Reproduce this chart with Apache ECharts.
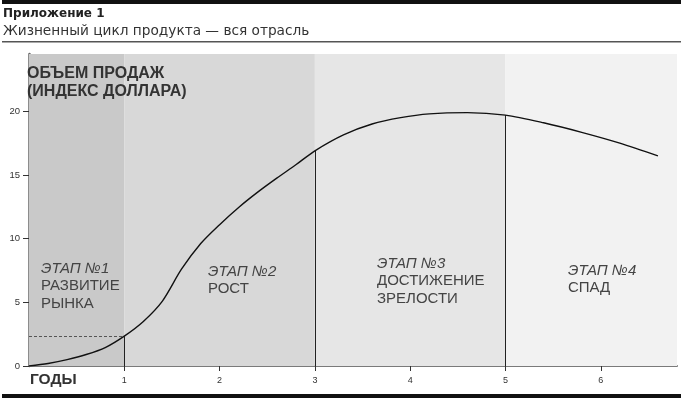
<!DOCTYPE html>
<html><head><meta charset="utf-8">
<script src="https://cdn.jsdelivr.net/npm/echarts@6/dist/echarts.min.js"></script>
<style>html,body{margin:0;padding:0;background:#fff}#c{width:685px;height:404px}</style>
</head><body><div id="c"></div>
<script>
// Data
const years = [0, 0.2, 0.4, 0.6, 0.8, 1.0, 1.2, 1.4, 1.6, 1.8, 2.0, 2.2, 2.4, 2.6, 2.8, 3.0, 3.3, 3.6, 3.9, 4.2, 4.6, 5.0, 5.4, 5.8, 6.2, 6.6];
const sales = [0, 0.2, 0.5, 0.9, 1.45, 2.35, 3.5, 5.1, 7.6, 9.6, 11.1, 12.45, 13.65, 14.75, 15.8, 16.9, 18.15, 19.0, 19.5, 19.8, 19.9, 19.7, 19.1, 18.35, 17.5, 16.5];
const stageBounds = [0, 1, 3, 5, 6.8];
const stageColors = ['#c9c9c9', '#d8d8d8', '#e6e6e6', '#f2f2f2'];
const xTickLabels = [1, 2, 3, 4, 5, 6];
const yTickLabels = [0, 5, 10, 15, 20];
const stageTitles = ['ЭТАП №1', 'ЭТАП №2', 'ЭТАП №3', 'ЭТАП №4'];
const stageNames = [['РАЗВИТИЕ', 'РЫНКА'], ['РОСТ'], ['ДОСТИЖЕНИЕ', 'ЗРЕЛОСТИ'], ['СПАД']];

const FONT = '"Liberation Sans", Arial, sans-serif';
const WIDE = '"DejaVu Sans", sans-serif';
const lineData = years.map((x, i) => [x, sales[i]]);
const valAt = x => sales[years.indexOf(x)];

const chart = echarts.init(document.getElementById('c'));
const stagePos = [[41, 261], [208, 264], [377, 256], [568, 263]];
const graphics = [
  {type: 'rect', shape: {x: 2, y: 0, width: 679, height: 4}, style: {fill: '#111'}},
  {type: 'text', left: 3, top: 8, style: {text: 'Приложение 1', font: 'bold 12px ' + WIDE, fill: '#222'}},
  {type: 'text', left: 3, top: 24, style: {text: 'Жизненный цикл продукта — вся отрасль', font: '13.7px ' + WIDE, fill: '#333'}},
  {type: 'rect', shape: {x: 2, y: 41, width: 679, height: 1.5}, style: {fill: '#555'}},
  {type: 'rect', shape: {x: 2, y: 394, width: 679, height: 4}, style: {fill: '#111'}, z: 100},
  {type: 'text', left: 27, top: 65, z: 100, style: {text: 'ОБЪЕМ ПРОДАЖ\n(ИНДЕКС ДОЛЛАРА)', font: 'bold 16px ' + FONT, lineHeight: 18, fill: '#333'}},
  {type: 'text', left: 30, top: 372, z: 100, style: {text: 'ГОДЫ', font: 'bold 15.5px ' + FONT, fill: '#333'}}
];
stageTitles.forEach((t, i) => {
  graphics.push({type: 'text', left: stagePos[i][0], top: stagePos[i][1], z: 100,
    style: {text: '{a|' + t + '}\n' + stageNames[i].map(s => '{b|' + s + '}').join('\n'),
      rich: {a: {font: 'italic 15px ' + FONT, fill: '#444', lineHeight: 17.5},
             b: {font: '15px ' + FONT, fill: '#444', lineHeight: 17.5}}}});
});

chart.setOption({
  animation: false,
  grid: {left: 29, right: 8, top: 54, bottom: 38},
  xAxis: {type: 'value', min: 0, max: stageBounds[stageBounds.length - 1], interval: 1,
    axisLine: {lineStyle: {color: '#7a7a7a', width: 2}},
    axisTick: {customValues: xTickLabels, length: 5, lineStyle: {color: '#333', width: 1}},
    axisLabel: {customValues: xTickLabels, fontSize: 9, color: '#333', margin: 10, fontFamily: FONT},
    splitLine: {show: false}},
  yAxis: {type: 'value', min: 0, max: 24.5, interval: 5,
    axisLine: {show: true, lineStyle: {color: '#666', width: 2.5}},
    axisTick: {show: true, customValues: yTickLabels, length: 6, lineStyle: {color: '#333', width: 1}},
    axisLabel: {customValues: yTickLabels, fontSize: 9.5, color: '#333', margin: 9, fontFamily: FONT},
    splitLine: {show: false}},
  graphic: graphics,
  series: [
    {type: 'line', data: [], z: 0,
      markArea: {silent: true, data: stageColors.map((c, i) => [
        {xAxis: stageBounds[i], yAxis: 0, itemStyle: {color: c}},
        {xAxis: stageBounds[i + 1], yAxis: 24.5}])}},
    {type: 'line', data: lineData, smooth: 0.3, symbol: 'none', z: 5,
      lineStyle: {color: '#111', width: 1.4},
      markLine: {silent: true, symbol: 'none', label: {show: false},
        data: [
          ...stageBounds.slice(1, 4).map(x => [
            {coord: [x, 0], lineStyle: {color: '#222', width: 1, type: 'solid'}},
            {coord: [x, valAt(x)]}]),
          [{coord: [0, valAt(1)], lineStyle: {color: '#555', width: 1, type: [3, 2]}},
           {coord: [1, valAt(1)]}]
        ]}}
  ]
});
</script></body></html>
